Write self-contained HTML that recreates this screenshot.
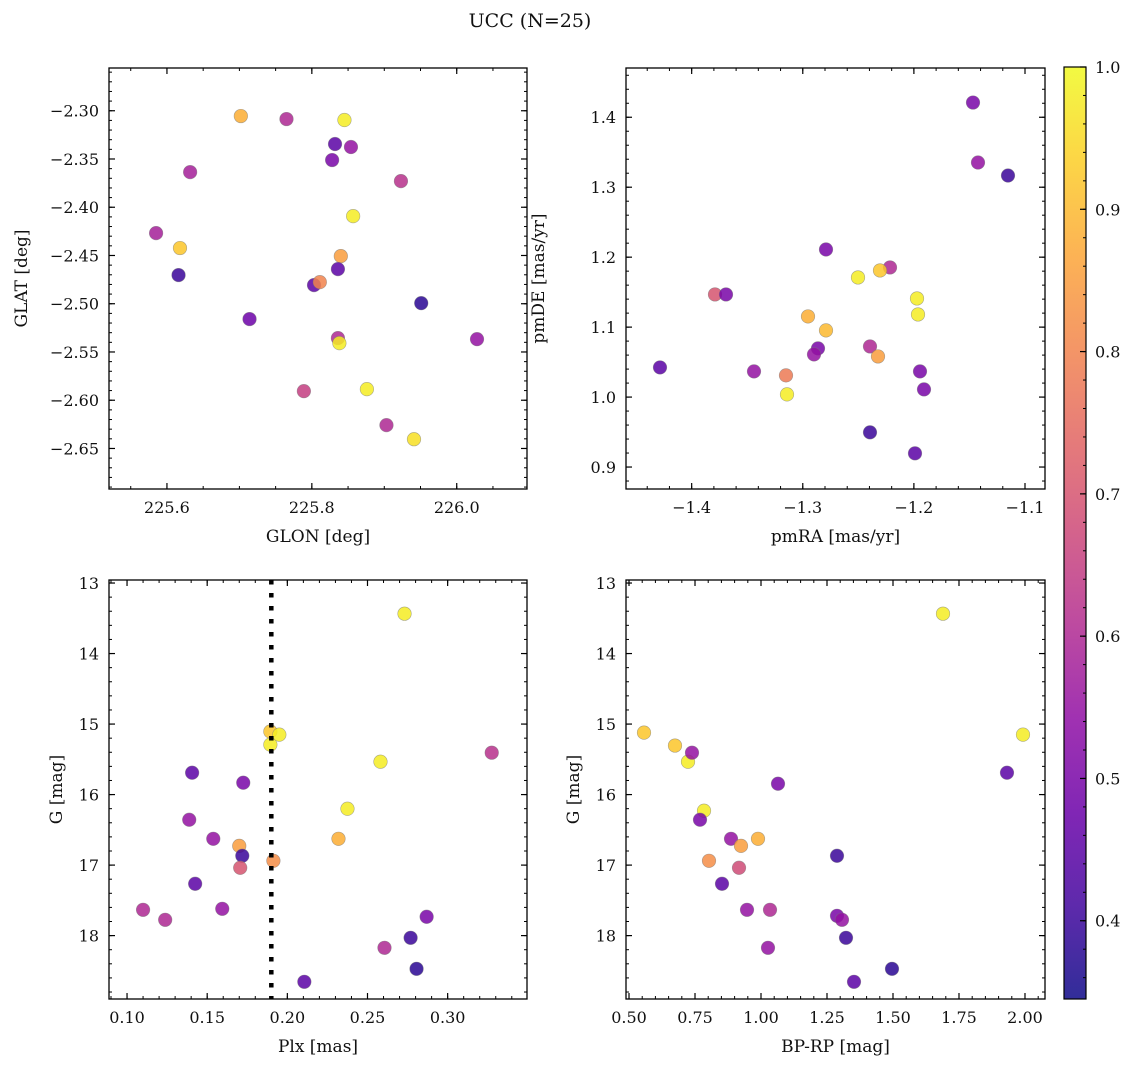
<!DOCTYPE html>
<html><head><meta charset="utf-8"><style>
html,body{margin:0;padding:0;background:#fff;}
svg text{font-family:"DejaVu Serif","Liberation Serif",serif;fill:#111;}
</style></head><body>
<svg id="fig" width="1136" height="1067" xmlns="http://www.w3.org/2000/svg">
<defs><linearGradient id="plasma" x1="0" y1="1" x2="0" y2="0"></linearGradient></defs>
<text x="530" y="27" font-size="19" text-anchor="middle">UCC (N=25)</text>
</svg>
<script>
// ---- data ----
const tlGlon=[225.702,225.765,225.845,225.832,225.854,225.828,225.632,225.923,225.857,225.585,225.618,225.840,225.616,225.836,225.803,225.811,225.951,225.714,225.836,225.838,226.028,225.789,225.876,225.903,225.941];
const tlGlat=[-2.3055,-2.3086,-2.3096,-2.3345,-2.3376,-2.3511,-2.3636,-2.3729,-2.4092,-2.4268,-2.4423,-2.4506,-2.4703,-2.4641,-2.4807,-2.4776,-2.4994,-2.5159,-2.5356,-2.5408,-2.5367,-2.5906,-2.5885,-2.6258,-2.6404];
const tlProb=[0.88,0.6,0.98,0.45,0.55,0.5,0.58,0.62,0.98,0.58,0.92,0.85,0.4,0.45,0.45,0.8,0.38,0.48,0.6,0.98,0.55,0.65,0.98,0.6,0.96];
const trPmra=[-1.1468,-1.1423,-1.1153,-1.2791,-1.2215,-1.2305,-1.2503,-1.379,-1.3691,-1.1972,-1.1963,-1.2953,-1.2791,-1.2395,-1.2863,-1.2899,-1.2323,-1.4285,-1.3439,-1.1945,-1.3151,-1.1909,-1.3142,-1.2395,-1.199];
const trPmde=[1.421,1.3353,1.3167,1.211,1.1853,1.181,1.171,1.1467,1.1467,1.141,1.1181,1.1153,1.0953,1.0724,1.0696,1.061,1.0581,1.0424,1.0367,1.0367,1.031,1.011,1.0039,0.9496,0.9196];
const trProb=[0.5,0.55,0.4,0.5,0.6,0.92,0.98,0.7,0.5,0.98,0.98,0.88,0.9,0.6,0.5,0.55,0.85,0.45,0.55,0.5,0.78,0.5,0.98,0.4,0.45];
const blPlx=[0.2731,0.3275,0.1894,0.1894,0.195,0.2581,0.1406,0.1725,0.1388,0.2375,0.1538,0.2319,0.17,0.1719,0.1706,0.1913,0.1425,0.11,0.1238,0.1594,0.2869,0.2769,0.2606,0.2806,0.2106];
const blG=[13.435,15.406,15.106,15.292,15.15,15.534,15.69,15.832,16.357,16.201,16.627,16.627,16.727,16.868,17.038,16.939,17.265,17.634,17.776,17.62,17.733,18.031,18.173,18.471,18.655];
const blProb=[0.98,0.62,0.92,0.98,0.98,0.98,0.45,0.5,0.55,0.98,0.55,0.88,0.85,0.4,0.7,0.82,0.45,0.6,0.6,0.55,0.5,0.4,0.6,0.38,0.45];
const brBprp=[1.6894,0.5568,0.6742,0.7235,0.7386,1.9924,1.9318,1.0644,0.7841,0.7689,0.9886,0.8864,0.9242,0.803,1.2879,0.9167,0.8523,0.947,1.0341,1.2879,1.3068,1.322,1.0265,1.4962,1.3523];
const brG=[13.435,15.121,15.305,15.534,15.406,15.15,15.69,15.846,16.229,16.357,16.627,16.627,16.727,16.939,16.868,17.038,17.265,17.634,17.634,17.719,17.776,18.031,18.173,18.471,18.655];
const brProb=[0.98,0.92,0.92,0.98,0.55,0.98,0.45,0.5,0.98,0.5,0.88,0.55,0.85,0.82,0.4,0.68,0.45,0.55,0.6,0.5,0.55,0.4,0.55,0.38,0.45];
const plxLine=[0.19];
const cbTicks=[0.4,0.5,0.6,0.7,0.8,0.9,1.0];
const cbRange=[0.345,1.0];

const NS="http://www.w3.org/2000/svg";
const svg=document.getElementById('fig');
const plasmaStops=["#0d0887","#41049d","#6a00a8","#8f0da4","#b12a90","#cc4778","#e16462","#f2844b","#fca636","#fcce25","#f0f921"];
function hex(h){return [parseInt(h.substr(1,2),16),parseInt(h.substr(3,2),16),parseInt(h.substr(5,2),16)];}
function plasma(t){t=Math.max(0,Math.min(1,t));const f=t*10;const i=Math.min(9,Math.floor(f));const r=f-i;const a=hex(plasmaStops[i]),b=hex(plasmaStops[i+1]);
return 'rgb('+a.map((v,k)=>Math.round(v+(b[k]-v)*r)).join(',')+')';}
function cmap(p){return plasma((p-cbRange[0])/(cbRange[1]-cbRange[0]));}
function el(tag,attrs,parent){const e=document.createElementNS(NS,tag);for(const k in attrs)e.setAttribute(k,attrs[k]);(parent||svg).appendChild(e);return e;}
function fmt(v,d){const s=Math.abs(v).toFixed(d);return (v<0?'\u2212':'')+s;}

function panel(name,box,xd,yd,xMaj,xMin,xDec,yMaj,yMin,yDec,xlabel,ylabel,xs,ys,ps,invY){
  const g=el('g',{});
  
  
  const [L,T,R,B]=box;
  const sx=v=>L+(v-xd[0])/(xd[1]-xd[0])*(R-L);
  const sy=invY?(v=>T+(v-yd[0])/(yd[1]-yd[0])*(B-T)):(v=>B-(v-yd[0])/(yd[1]-yd[0])*(B-T));
  const ymin=Math.min(yd[0],yd[1]),ymax=Math.max(yd[0],yd[1]);
  function ticks(step,lo,hi){const a=[];const s=Math.ceil(lo/step-1e-6);for(let k=s;k*step<=hi+1e-9;k++)a.push(+(k*step).toFixed(6));return a;}
  ticks(xMin,xd[0],xd[1]).forEach(v=>{const x=sx(v);const t1=el('line',{x1:x,x2:x,y1:B,y2:B-3,stroke:'#000','stroke-width':1},g);const t2=el('line',{x1:x,x2:x,y1:T,y2:T+3,stroke:'#000','stroke-width':1},g);});
  ticks(yMin,ymin,ymax).forEach(v=>{const y=sy(v);const t1=el('line',{x1:L,x2:L+3,y1:y,y2:y,stroke:'#000','stroke-width':1},g);const t2=el('line',{x1:R,x2:R-3,y1:y,y2:y,stroke:'#000','stroke-width':1},g);});
  ticks(xMaj,xd[0],xd[1]).forEach(v=>{const x=sx(v);
    const t1=el('line',{x1:x,x2:x,y1:B,y2:B-6,stroke:'#000','stroke-width':1.2},g);
    const t2=el('line',{x1:x,x2:x,y1:T,y2:T+6,stroke:'#000','stroke-width':1.2},g);
    const t=el('text',{x:x,y:B+24,'font-size':16,'text-anchor':'middle'},g);t.textContent=fmt(v,xDec);
    });
  ticks(yMaj,ymin,ymax).forEach(v=>{const y=sy(v);
    const t1=el('line',{x1:L,x2:L+6,y1:y,y2:y,stroke:'#000','stroke-width':1.2},g);
    const t2=el('line',{x1:R,x2:R-6,y1:y,y2:y,stroke:'#000','stroke-width':1.2},g);
    const t=el('text',{x:L-10,y:y+6,'font-size':16,'text-anchor':'end'},g);t.textContent=fmt(v,yDec);
    });
  xs.forEach((xv,i)=>{const c=el('circle',{cx:sx(xv),cy:sy(ys[i]),r:6.8,fill:cmap(ps[i]),'fill-opacity':0.85,stroke:'#777','stroke-opacity':0.6,'stroke-width':0.6},g);
    });
  const fr=el('rect',{x:L,y:T,width:R-L,height:B-T,fill:'none',stroke:'#000','stroke-width':1.3},g);
  
  const xl=el('text',{x:(L+R)/2,y:B+53,'font-size':17,'text-anchor':'middle'},g);xl.textContent=xlabel;
  
  const yx=L-(ylabel==='G [mag]'?53:88);const yl=el('text',{x:0,y:0,'font-size':17,'text-anchor':'middle',transform:'translate('+(yx+6)+','+((T+B)/2)+') rotate(-90)'},g);yl.textContent=ylabel;
  
  return {sx,sy,g};
}

panel('panel-glon-glat',[109,68,527,489],[225.520,226.097],[-2.692,-2.2557],0.2,0.05,1,0.05,0.01,2,'GLON [deg]','GLAT [deg]',tlGlon,tlGlat,tlProb,false);
panel('panel-pm',[626,68,1045,489],[-1.4591,-1.082],[0.8686,1.4704],0.1,0.02,1,0.1,0.02,1,'pmRA [mas/yr]','pmDE [mas/yr]',trPmra,trPmde,trProb,false);
const bl=panel('panel-plx-g',[109,580,527,999],[0.08875,0.3495],[12.957,18.899],0.05,0.01,2,1,0.2,0,'Plx [mas]','G [mag]',blPlx,blG,blProb,true);
panel('panel-cmd',[626,580,1045,999],[0.4886,2.0758],[12.957,18.899],0.25,0.05,2,1,0.2,0,'BP-RP [mag]','G [mag]',brBprp,brG,brProb,true);
plxLine.forEach(v=>{const ln=el('line',{x1:bl.sx(v),x2:bl.sx(v),y1:580,y2:999,stroke:'#000','stroke-width':4.5,'stroke-dasharray':'4.5,8.5'},bl.g);
  });

const grad=document.getElementById('plasma');
for(let i=0;i<=20;i++){const s=document.createElementNS(NS,'stop');s.setAttribute('offset',(i/20));s.setAttribute('stop-color',plasma(i/20));s.setAttribute('stop-opacity',0.85);grad.appendChild(s);}
const cbL=1064,cbR=1086,cbT=67,cbB=999;
const cbs=v=>cbB-(v-cbRange[0])/(cbRange[1]-cbRange[0])*(cbB-cbT);
const cbg=el('g',{});


const cbr=el('rect',{x:cbL,y:cbT,width:cbR-cbL,height:cbB-cbT,fill:'url(#plasma)',stroke:'#000','stroke-width':1.2},cbg);

for(let v=0.36;v<=1.0001;v+=0.02){const y=cbs(v);const t=el('line',{x1:cbR,x2:cbR-3,y1:y,y2:y,stroke:'#000','stroke-width':1},cbg);}
cbTicks.forEach(v=>{const y=cbs(v);const t=el('line',{x1:cbR,x2:cbR-6,y1:y,y2:y,stroke:'#000','stroke-width':1.2},cbg);
  const tx=el('text',{x:cbR+9,y:y+6,'font-size':16},cbg);tx.textContent=v.toFixed(1);});
</script>
</body></html>
